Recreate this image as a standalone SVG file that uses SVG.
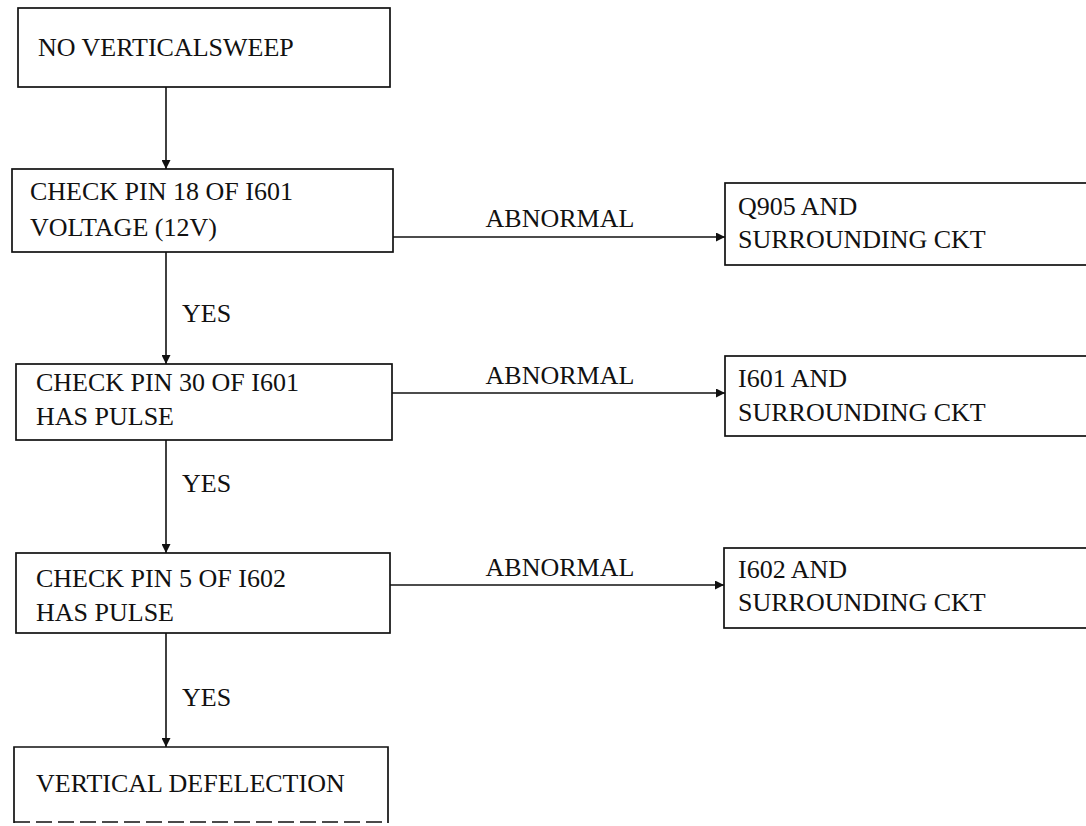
<svg xmlns="http://www.w3.org/2000/svg" width="1086" height="826" viewBox="0 0 1086 826">
<style>
.box{fill:#fff;stroke:#111;stroke-width:1.7}
.t{font-family:"Liberation Serif","Times New Roman",serif;font-size:26px;fill:#111}
.c{stroke:#111;stroke-width:1.6;fill:none}
</style>
<defs>
<marker id="ah" viewBox="0 0 10 10" refX="10" refY="5" markerWidth="9" markerHeight="9" markerUnits="userSpaceOnUse" orient="auto">
<path d="M0,0 L10,5 L0,10 z" fill="#111"/>
</marker>
</defs>
<rect width="1086" height="826" fill="#fff"/>
<g id="connectors">
<line class="c" x1="166" y1="87" x2="166" y2="169" marker-end="url(#ah)"/>
<line class="c" x1="166" y1="252" x2="166" y2="364" marker-end="url(#ah)"/>
<line class="c" x1="166" y1="440" x2="166" y2="553" marker-end="url(#ah)"/>
<line class="c" x1="166" y1="633" x2="166" y2="747" marker-end="url(#ah)"/>
<line class="c" x1="393" y1="237" x2="725" y2="237" marker-end="url(#ah)"/>
<line class="c" x1="392" y1="393" x2="725" y2="393" marker-end="url(#ah)"/>
<line class="c" x1="390" y1="585" x2="724" y2="585" marker-end="url(#ah)"/>
<text class="t" x="182" y="322">YES</text>
<text class="t" x="182" y="492">YES</text>
<text class="t" x="182" y="706">YES</text>
<text class="t" x="560" y="227" text-anchor="middle">ABNORMAL</text>
<text class="t" x="560" y="384" text-anchor="middle">ABNORMAL</text>
<text class="t" x="560" y="576" text-anchor="middle">ABNORMAL</text>
</g>
<g id="n1">
<rect class="box" x="18" y="8" width="372" height="79"/>
<text class="t" x="38" y="56">NO VERTICALSWEEP</text>
</g>
<g id="n2">
<rect class="box" x="12" y="169" width="381" height="83"/>
<text class="t" x="30" y="200">CHECK PIN 18 OF I601</text>
<text class="t" x="30" y="236">VOLTAGE (12V)</text>
</g>
<g id="n3">
<rect class="box" x="16" y="364" width="376" height="76"/>
<text class="t" x="36" y="391">CHECK PIN 30 OF I601</text>
<text class="t" x="36" y="425">HAS PULSE</text>
</g>
<g id="n4">
<rect class="box" x="16" y="553" width="374" height="80"/>
<text class="t" x="36" y="587">CHECK PIN 5 OF I602</text>
<text class="t" x="36" y="621">HAS PULSE</text>
</g>
<g id="n5">
<path class="box" d="M14,823 L14,747 L388,747 L388,823"/>
<line x1="14" y1="822" x2="388" y2="822" stroke="#111" stroke-width="1.6" stroke-dasharray="16 6"/>
<text class="t" x="36" y="792">VERTICAL DEFELECTION</text>
</g>
<g id="n6">
<rect class="box" x="725" y="183" width="370" height="82"/>
<text class="t" x="738" y="215">Q905 AND</text>
<text class="t" x="738" y="248">SURROUNDING CKT</text>
</g>
<g id="n7">
<rect class="box" x="725" y="356" width="370" height="80"/>
<text class="t" x="738" y="387">I601 AND</text>
<text class="t" x="738" y="421">SURROUNDING CKT</text>
</g>
<g id="n8">
<rect class="box" x="724" y="548" width="370" height="80"/>
<text class="t" x="738" y="578">I602 AND</text>
<text class="t" x="738" y="611">SURROUNDING CKT</text>
</g>
</svg>
